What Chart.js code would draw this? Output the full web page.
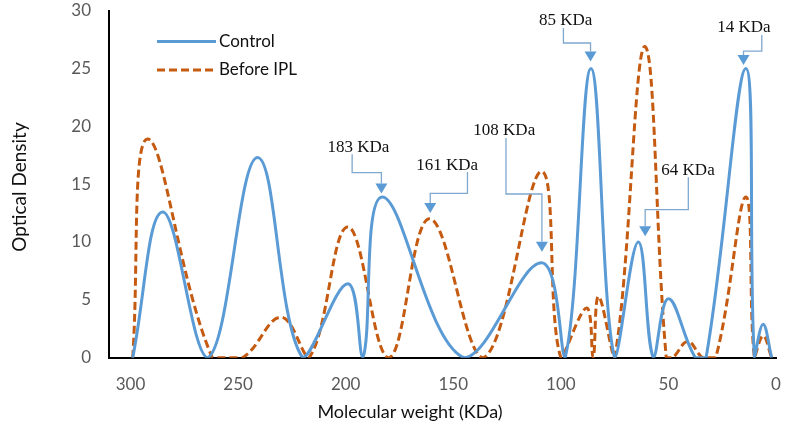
<!DOCTYPE html>
<html><head><meta charset="utf-8">
<script src="https://cdn.jsdelivr.net/npm/chart.js@4/dist/chart.umd.min.js"></script>
<style>html,body{margin:0;padding:0;background:#fff;}#wrap{width:788px;height:434px;}</style>
</head><body><div id="wrap"><canvas id="c" width="788" height="434"></canvas></div>
<script>
// ---- data ----
const xTickLabels = [300, 250, 200, 150, 100, 50, 0];
const yTickLabels = [0, 5, 10, 15, 20, 25, 30];
const seriesNames = ['Control', 'Before IPL'];
const controlX = [299, 285, 264, 241, 220, 199, 192, 183, 145, 109, 98, 86, 75, 64, 57, 50, 37.5, 32.5, 14, 10, 6, 2];
const controlY = [0, 12.6, 0, 17.3, 0, 6.4, 0, 13.9, 0, 8.2, 0, 25, 0, 10, 0, 5.1, 0, 0, 25, 0, 2.9, 0];
const beforeX = [299, 292, 262, 248, 230, 217, 199, 180, 161, 136, 109, 100, 88, 85, 82.5, 75, 61, 51, 48, 41, 34, 28, 14, 10, 6, 2];
const beforeY = [0, 18.9, 0, 0, 3.5, 0, 11.3, 0, 12, 0, 16.1, 0, 4.3, 0, 5.3, 0, 26.9, 0, 0, 1.4, 0, 0, 13.9, 0, 1.9, 0];
// callouts: text, text centre (tx,ty), leader start x (lx), elbow y (ey), arrow x (ax), arrow tip y (tip)
const callouts = [
  {text: '183 KDa', tx: 194.1, ty: 18.2, lx: 197.0, ey: 16.0, ax: 183.4, tip: 14.2},
  {text: '161 KDa', tx: 152.8, ty: 16.65, lx: 143.4, ey: 14.2, ax: 160.7, tip: 12.5},
  {text: '108 KDa', tx: 126.3, ty: 19.6, lx: 125.5, ey: 14.15, ax: 108.8, tip: 9.16},
  {text: '85 KDa', tx: 97.8, ty: 29.1, lx: 98.8, ey: 27.2, ax: 86.2, tip: 25.6},
  {text: '64 KDa', tx: 40.9, ty: 16.2, lx: 40.75, ey: 12.8, ax: 60.8, tip: 10.5},
  {text: '14 KDa', tx: 14.9, ty: 28.5, lx: 6.6, ey: 26.5, ax: 15.1, tip: 25.3}
];
const xTitle = 'Molecular weight (KDa)';
const yTitle = 'Optical Density';

const toPts = (xs, ys) => xs.map((v, i) => ({x: v, y: ys[i]}));
const BLUE = '#5B9BD5', ORANGE = '#C55A11';
const SANS = 'Lato, "Open Sans", sans-serif';

const overlay = {
  id: 'overlay',
  afterDatasetsDraw(chart) {
    const {ctx, scales: {x, y}} = chart;
    ctx.save();
    // callouts
    callouts.forEach(c => {
      const tx = x.getPixelForValue(c.tx), ty = y.getPixelForValue(c.ty);
      const lx = x.getPixelForValue(c.lx), ey = y.getPixelForValue(c.ey);
      const ax = x.getPixelForValue(c.ax), tip = y.getPixelForValue(c.tip);
      const ah = 10, aw = 6;
      ctx.strokeStyle = '#7FA8CF';
      ctx.lineWidth = 1.3;
      ctx.beginPath();
      ctx.moveTo(lx, ty + 7);
      ctx.lineTo(lx, ey);
      ctx.lineTo(ax, ey);
      ctx.lineTo(ax, tip - ah);
      ctx.stroke();
      ctx.fillStyle = BLUE;
      ctx.beginPath();
      ctx.moveTo(ax - aw, tip - ah);
      ctx.lineTo(ax + aw, tip - ah);
      ctx.lineTo(ax, tip);
      ctx.closePath();
      ctx.fill();
      ctx.fillStyle = '#111';
      ctx.font = '17px "Liberation Serif", "Times New Roman", serif';
      ctx.textAlign = 'center';
      ctx.textBaseline = 'middle';
      ctx.fillText(c.text, tx, ty);
    });
    // legend
    const ds = chart.data.datasets;
    const legY = [41.5, 70];
    ds.forEach((d, i) => {
      ctx.strokeStyle = d.borderColor;
      ctx.lineWidth = 3;
      ctx.setLineDash(d.borderDash || []);
      ctx.beginPath();
      ctx.moveTo(157, legY[i]);
      ctx.lineTo(216, legY[i]);
      ctx.stroke();
      ctx.setLineDash([]);
      ctx.fillStyle = '#111';
      ctx.font = '17px ' + SANS;
      ctx.textAlign = 'left';
      ctx.textBaseline = 'middle';
      ctx.fillText(d.label, 219, legY[i]);
    });
    // axis titles
    ctx.fillStyle = '#111';
    ctx.font = '18px ' + SANS;
    ctx.textAlign = 'center';
    ctx.textBaseline = 'middle';
    ctx.fillText(xTitle, 410, 412);
    ctx.font = '19px ' + SANS;
    ctx.translate(20, 187);
    ctx.rotate(-Math.PI / 2);
    ctx.fillText(yTitle, 0, 0);
    ctx.restore();
  }
};

new Chart(document.getElementById('c'), {
  type: 'line',
  data: {
    datasets: [
      {label: seriesNames[0], data: toPts(controlX, controlY), borderColor: BLUE, borderWidth: 3,
       pointRadius: 0, tension: 0.4, fill: false},
      {label: seriesNames[1], data: toPts(beforeX, beforeY), borderColor: ORANGE, borderWidth: 3,
       borderDash: [8, 4], pointRadius: 0, tension: 0.4, fill: false}
    ]
  },
  options: {
    responsive: false,
    animation: false,
    devicePixelRatio: 1,
    layout: {padding: {left: 0, right: 12, top: 10.6, bottom: 0}},
    plugins: {legend: {display: false}, tooltip: {enabled: false}},
    scales: {
      x: {
        type: 'linear', reverse: true, min: 0, max: 310,
        grid: {display: false, drawTicks: false},
        border: {display: true, color: '#000', width: 2},
        afterBuildTicks: s => { s.ticks = xTickLabels.map(v => ({value: v})); },
        afterFit: s => { s.height = 76.3; s.paddingLeft = 0; s.paddingRight = 0; },
        ticks: {padding: 17, color: '#595959', font: {family: SANS, size: 17}, maxRotation: 0}
      },
      y: {
        type: 'linear', min: 0, max: 30,
        grid: {display: false, drawTicks: false},
        border: {display: true, color: '#000', width: 2},
        afterBuildTicks: s => { s.ticks = yTickLabels.map(v => ({value: v})); },
        afterFit: s => { s.width = 109; s.paddingTop = 0; s.paddingBottom = 0; },
        ticks: {padding: 18, color: '#595959', font: {family: SANS, size: 17}}
      }
    }
  },
  plugins: [overlay]
});
</script></body></html>
